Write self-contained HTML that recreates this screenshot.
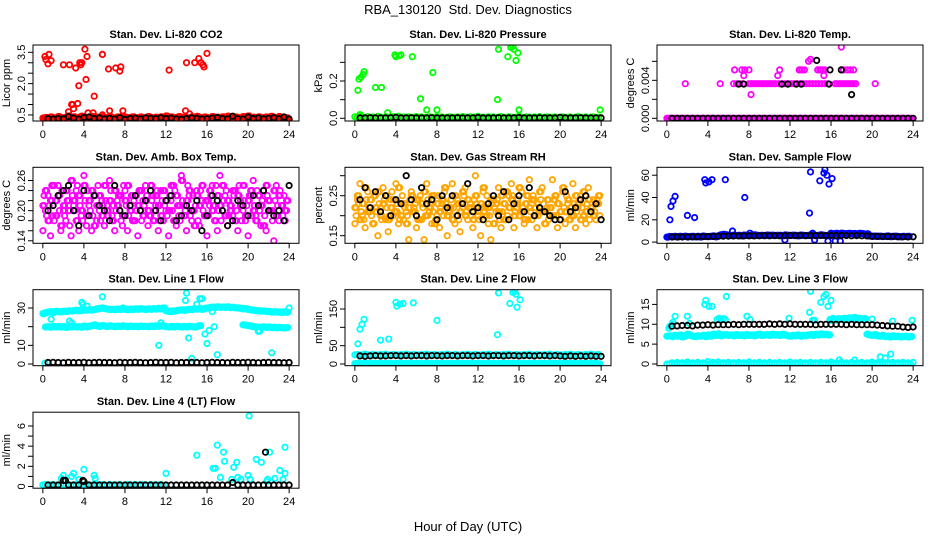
<!DOCTYPE html>
<html><head><meta charset="utf-8"><title>RBA_130120 Std. Dev. Diagnostics</title>
<style>html,body{margin:0;padding:0;background:#fff}svg{display:block;font-family:"Liberation Sans",Arial,sans-serif}</style>
</head><body>
<svg id="chart" width="936" height="540" viewBox="0 0 936 540" xmlns="http://www.w3.org/2000/svg">
<rect width="936" height="540" fill="#fff"/>
<text x="468" y="14" font-size="13" text-anchor="middle">RBA_130120&#160; Std. Dev. Diagnostics</text>
<text x="468" y="531" font-size="13" text-anchor="middle">Hour of Day (UTC)</text>
</svg>
<script>
const hoursQ=[0,0.25,0.5,0.75,1,1.25,1.5,1.75,2,2.25,2.5,2.75,3,3.25,3.5,3.75,4,4.25,4.5,4.75,5,5.25,5.5,5.75,6,6.25,6.5,6.75,7,7.25,7.5,7.75,8,8.25,8.5,8.75,9,9.25,9.5,9.75,10,10.25,10.5,10.75,11,11.25,11.5,11.75,12,12.25,12.5,12.75,13,13.25,13.5,13.75,14,14.25,14.5,14.75,15,15.25,15.5,15.75,16,16.25,16.5,16.75,17,17.25,17.5,17.75,18,18.25,18.5,18.75,19,19.25,19.5,19.75,20,20.25,20.5,20.75,21,21.25,21.5,21.75,22,22.25,22.5,22.75,23,23.25,23.5,23.75];
const hoursE=[0.12,0.37,0.62,0.87,1.12,1.37,1.62,1.87,2.12,2.37,2.62,2.87,3.12,3.37,3.62,3.87,4.12,4.37,4.62,4.87,5.12,5.37,5.62,5.87,6.12,6.37,6.62,6.87,7.12,7.37,7.62,7.87,8.12,8.37,8.62,8.87,9.12,9.37,9.62,9.87,10.12,10.37,10.62,10.87,11.12,11.37,11.62,11.87,12.12,12.37,12.62,12.87,13.12,13.37,13.62,13.87,14.12,14.37,14.62,14.87,15.12,15.37,15.62,15.87,16.12,16.37,16.62,16.87,17.12,17.37,17.62,17.87,18.12,18.37,18.62,18.87,19.12,19.37,19.62,19.87,20.12,20.37,20.62,20.87,21.12,21.37,21.62,21.87,22.12,22.37,22.62,22.87,23.12,23.37,23.62,23.87];
const hoursH=[0.5,1,1.5,2,2.5,3,3.5,4,4.5,5,5.5,6,6.5,7,7.5,8,8.5,9,9.5,10,10.5,11,11.5,12,12.5,13,13.5,14,14.5,15,15.5,16,16.5,17,17.5,18,18.5,19,19.5,20,20.5,21,21.5,22,22.5,23,23.5,24];
const xTicks=[0,4,8,12,16,20,24];

// Panel 1: CO2
const co2Red=[0.35,0.38,0.32,0.40,0.36,0.33,0.42,0.37,0.34,0.39,0.45,0.36,0.41,0.33,0.38,0.44,0.40,0.35,0.37,0.43,0.36,0.39,0.34,0.41,0.38,0.35,0.42,0.37,0.33,0.40,0.36,0.44,0.39,0.34,0.38,0.41,0.35,0.37,0.40,0.33,0.36,0.42,0.38,0.35,0.39,0.34,0.41,0.37,0.45,0.36,0.40,0.33,0.38,0.42,0.35,0.39,0.37,0.34,0.41,0.36,0.43,0.38,0.35,0.40,0.37,0.33,0.42,0.36,0.39,0.34,0.41,0.38,0.44,0.35,0.37,0.40,0.36,0.33,0.42,0.38,0.45,0.35,0.39,0.34,0.41,0.37,0.36,0.40,0.33,0.43,0.38,0.35,0.42,0.37,0.34,0.36];
const co2OutX=[0.2,0.3,0.5,0.6,0.8,2.0,2.6,3.2,3.6,3.7,3.8,4.1,4.3,3.5,4.2,5.0,5.8,6.4,7.1,7.5,7.6,2.5,2.8,3.0,3.4,2.9,4.4,4.9,5.8,6.5,7.8,12.3,13.9,14.0,14.8,15.2,15.4,15.6,15.7,16.0,14.3];
const co2OutY=[3.3,3.15,2.95,3.4,3.1,2.9,2.9,2.75,3.0,2.9,3.0,3.65,3.3,1.9,2.2,1.4,3.4,2.7,2.75,2.6,2.8,0.65,1.0,0.8,1.05,1.0,0.6,0.6,0.5,0.7,0.7,2.65,0.7,3.0,3.0,3.2,3.0,2.9,2.8,3.45,0.55];
const co2Black=[0.32,0.30,0.33,0.31,0.42,0.35,0.30,0.38,0.40,0.33,0.36,0.31,0.34,0.30,0.37,0.28,0.33,0.35,0.31,0.36,0.34,0.32,0.37,0.33,0.35,0.31,0.29,0.33,0.36,0.34,0.30,0.32,0.35,0.38,0.33,0.31,0.44,0.32,0.30,0.40,0.33,0.36,0.31,0.34,0.37,0.32,0.40,0.30];

// Panel 2: Pressure
const presGreen=[0.008,0.004,0.012,0.006,0.003,0.009,0.005,0.007,0.002,0.010,0.006,0.004,0.008,0.005,0.003,0.009,0.006,0.011,0.004,0.007,0.005,0.008,0.003,0.006,0.009,0.004,0.007,0.005,0.002,0.008,0.006,0.004,0.009,0.005,0.007,0.003,0.006,0.008,0.004,0.005,0.007,0.003,0.009,0.006,0.004,0.008,0.005,0.007,0.010,0.004,0.006,0.003,0.008,0.005,0.007,0.004,0.006,0.009,0.003,0.005,0.008,0.006,0.004,0.007,0.010,0.005,0.003,0.008,0.006,0.004,0.007,0.005,0.009,0.003,0.006,0.008,0.004,0.005,0.007,0.003,0.006,0.008,0.004,0.005,0.007,0.003,0.006,0.009,0.004,0.005,0.007,0.003,0.006,0.008,0.004,0.005];
const presOutX=[0.3,0.4,0.6,0.8,0.9,2.0,2.6,3.2,3.9,4.0,4.3,4.5,5.6,6.4,7.0,7.6,8.0,13.9,14.0,14.9,15.2,15.4,15.5,15.7,15.9,16.0,23.9,0.5];
const presOutY=[0.15,0.21,0.22,0.235,0.25,0.165,0.165,0.03,0.34,0.33,0.335,0.34,0.33,0.105,0.045,0.245,0.045,0.10,0.37,0.33,0.38,0.385,0.37,0.31,0.35,0.045,0.045,0.02];
const presBlack=[0.002,0.002,0.003,0.002,0.002,0.002,0.003,0.005,0.002,0.002,0.003,0.002,0.002,0.002,0.003,0.002,0.002,0.002,0.002,0.003,0.002,0.002,0.002,0.004,0.002,0.002,0.002,0.003,0.002,0.002,0.002,0.004,0.002,0.002,0.002,0.003,0.002,0.002,0.002,0.005,0.002,0.002,0.002,0.003,0.002,0.002,0.002,0.002];

// Panel 3: Temp
const tempMagZero=[0,0,0,0,0,0,0,0,0,0,0,0,0,0,0,0,0,0,0,0,0,0,0,0,0,0,0,0,0,0,0,0,0,0,0,0,0,0,0,0,0,0,0,0,0,0,0,0,0,0,0,0,0,0,0,0,0,0,0,0,0,0,0,0,0,0,0,0,0,0,0,0,0,0,0,0,0,0,0,0,0,0,0,0,0,0,0,0,0,0,0,0,0,0,0,0];
const tempBandX=[1.8,5.2,6.5,6.8,7.1,7.4,8.0,8.2,8.4,8.6,8.8,9.0,9.2,9.4,9.6,9.8,10.0,10.2,10.4,10.6,10.9,11.2,11.5,11.8,12.1,12.4,12.7,13.0,13.3,13.6,13.9,14.2,14.5,14.8,15.1,15.4,15.7,16.4,16.6,16.8,17.0,17.2,17.4,17.6,17.8,18.0,18.2,18.4,20.3];
const tempBandY=[0.00364,0.00364,0.00364,0.00364,0.00364,0.00364,0.00364,0.00364,0.00364,0.00364,0.00364,0.00364,0.00364,0.00364,0.00364,0.00364,0.00364,0.00364,0.00364,0.00364,0.00364,0.00364,0.00364,0.00364,0.00364,0.00364,0.00364,0.00364,0.00364,0.00364,0.00364,0.00364,0.00364,0.00364,0.00364,0.00364,0.00364,0.00364,0.00364,0.00364,0.00364,0.00364,0.00364,0.00364,0.00364,0.00364,0.00364,0.00364,0.00364];
const tempOutX=[6.6,7.3,7.6,8.0,11.0,12.9,13.0,13.2,13.4,14.7,14.9,15.0,15.2,15.4,17.2,17.6,17.9,18.2,7.5,10.8,15.3,8.2,13.8,14.0,17.0];
const tempOutY=[0.0051,0.0051,0.0051,0.0051,0.0051,0.0051,0.0051,0.0051,0.0051,0.0051,0.0051,0.0051,0.0051,0.0051,0.0051,0.0051,0.0051,0.0051,0.0045,0.0045,0.0045,0.0025,0.006,0.0062,0.0075];
const tempBlackZero=[0,0,0,0,0,0,0,0,0,0,0,0,0,0,0,0,0,0,0,0,0,0,0,0,0,0,0,0,0,0,0,0,0,0,0,0,0,0,0,0,0,0,0,0,0,0,0,0];
const tempBlackOutX=[7.0,7.5,11.2,11.8,12.6,13.1,15.8,14.6,15.9,17.0,18.0];
const tempBlackOutY=[0.0036,0.0036,0.0036,0.0036,0.0036,0.0036,0.0036,0.0061,0.0051,0.0051,0.0025];

// Panel 4: Amb box temp
const ambA=[0.21,0.24,0.18,0.22,0.25,0.19,0.23,0.17,0.21,0.24,0.20,0.26,0.22,0.18,0.23,0.20,0.25,0.19,0.22,0.24,0.17,0.21,0.23,0.19,0.25,0.20,0.22,0.18,0.24,0.21,0.23,0.19,0.22,0.25,0.20,0.18,0.23,0.21,0.24,0.19,0.22,0.20,0.25,0.18,0.23,0.21,0.19,0.24,0.22,0.20,0.25,0.18,0.23,0.21,0.26,0.19,0.22,0.24,0.20,0.17,0.23,0.21,0.25,0.19,0.22,0.24,0.20,0.18,0.23,0.21,0.25,0.19,0.22,0.20,0.24,0.18,0.23,0.21,0.25,0.19,0.22,0.24,0.20,0.18,0.23,0.21,0.17,0.25,0.22,0.20,0.24,0.19,0.23,0.21,0.18,0.22];
const ambB=[0.16,0.20,0.23,0.15,0.19,0.22,0.25,0.16,0.20,0.18,0.22,0.15,0.21,0.24,0.16,0.19,0.27,0.17,0.21,0.16,0.23,0.18,0.20,0.22,0.17,0.21,0.26,0.19,0.16,0.22,0.20,0.17,0.24,0.16,0.21,0.23,0.18,0.15,0.20,0.22,0.25,0.17,0.19,0.23,0.21,0.16,0.24,0.18,0.20,0.15,0.22,0.25,0.17,0.19,0.27,0.21,0.16,0.23,0.18,0.20,0.24,0.17,0.22,0.19,0.15,0.21,0.25,0.18,0.16,0.27,0.20,0.23,0.17,0.21,0.19,0.24,0.16,0.22,0.20,0.18,0.15,0.23,0.26,0.19,0.21,0.17,0.24,0.16,0.22,0.20,0.14,0.25,0.18,0.21,0.23,0.20];
const ambC=[0.23,0.19,0.21,0.25,0.18,0.22,0.20,0.24,0.19,0.22,0.17,0.23,0.20,0.25,0.21,0.18,0.22,0.24,0.20,0.19,0.23,0.25,0.18,0.21,0.22,0.19,0.24,0.21,0.20,0.23,0.18,0.25,0.21,0.19,0.23,0.22,0.20,0.24,0.18,0.21,0.23,0.19,0.22,0.20,0.24,0.18,0.22,0.21,0.19,0.23,0.20,0.24,0.21,0.18,0.22,0.20,0.25,0.19,0.23,0.21,0.18,0.24,0.20,0.22,0.19,0.23,0.21,0.25,0.20,0.18,0.22,0.24,0.19,0.21,0.23,0.20,0.25,0.18,0.22,0.21,0.23,0.19,0.21,0.24,0.20,0.22,0.19,0.23,0.20,0.18,0.22,0.21,0.24,0.19,0.20,0.22];
const ambBlack=[0.20,0.21,0.23,0.24,0.25,0.20,0.17,0.24,0.19,0.23,0.21,0.20,0.18,0.25,0.20,0.19,0.21,0.23,0.20,0.22,0.24,0.20,0.18,0.22,0.23,0.18,0.19,0.21,0.20,0.22,0.16,0.19,0.23,0.22,0.20,0.17,0.18,0.22,0.21,0.19,0.23,0.21,0.24,0.20,0.19,0.20,0.18,0.25];

// Panel 5: Gas stream RH
const rhA=[0.22,0.25,0.19,0.23,0.27,0.21,0.24,0.18,0.22,0.26,0.20,0.23,0.25,0.19,0.22,0.24,0.21,0.27,0.20,0.23,0.18,0.22,0.25,0.21,0.24,0.19,0.23,0.26,0.20,0.22,0.25,0.18,0.23,0.21,0.24,0.27,0.20,0.22,0.19,0.25,0.23,0.21,0.26,0.20,0.24,0.22,0.19,0.25,0.21,0.23,0.27,0.20,0.22,0.24,0.18,0.23,0.21,0.25,0.19,0.26,0.22,0.24,0.20,0.23,0.27,0.21,0.19,0.25,0.22,0.24,0.20,0.23,0.26,0.21,0.18,0.24,0.22,0.20,0.25,0.23,0.19,0.27,0.21,0.24,0.22,0.20,0.25,0.23,0.19,0.26,0.21,0.24,0.22,0.20,0.23,0.25];
const rhB=[0.18,0.24,0.28,0.20,0.17,0.26,0.21,0.18,0.25,0.15,0.22,0.27,0.19,0.16,0.24,0.20,0.28,0.18,0.23,0.19,0.21,0.14,0.26,0.22,0.17,0.24,0.19,0.14,0.28,0.21,0.18,0.25,0.20,0.17,0.23,0.26,0.15,0.21,0.28,0.18,0.24,0.16,0.22,0.27,0.19,0.23,0.17,0.30,0.20,0.15,0.26,0.22,0.18,0.14,0.24,0.21,0.27,0.17,0.23,0.19,0.25,0.28,0.17,0.22,0.20,0.26,0.18,0.23,0.29,0.19,0.24,0.17,0.21,0.27,0.18,0.22,0.20,0.29,0.24,0.17,0.21,0.26,0.18,0.23,0.19,0.28,0.17,0.22,0.25,0.20,0.18,0.27,0.21,0.24,0.19,0.23];
const rhC=[0.20,0.23,0.21,0.19,0.24,0.22,0.20,0.25,0.21,0.23,0.19,0.24,0.22,0.20,0.26,0.21,0.23,0.19,0.25,0.22,0.20,0.24,0.21,0.23,0.19,0.25,0.22,0.20,0.24,0.23,0.21,0.19,0.25,0.22,0.20,0.23,0.21,0.24,0.22,0.20,0.19,0.23,0.25,0.21,0.22,0.20,0.24,0.23,0.19,0.22,0.21,0.25,0.20,0.23,0.22,0.24,0.19,0.21,0.23,0.20,0.22,0.25,0.21,0.24,0.20,0.22,0.23,0.19,0.21,0.25,0.22,0.20,0.24,0.23,0.21,0.19,0.22,0.24,0.20,0.23,0.21,0.22,0.25,0.19,0.20,0.23,0.21,0.24,0.22,0.20,0.23,0.19,0.22,0.21,0.24,0.20];
const rhBlack=[0.24,0.27,0.22,0.26,0.21,0.25,0.20,0.24,0.23,0.30,0.24,0.20,0.27,0.23,0.24,0.19,0.25,0.22,0.25,0.20,0.23,0.28,0.21,0.22,0.19,0.23,0.25,0.20,0.26,0.19,0.23,0.25,0.21,0.27,0.20,0.22,0.21,0.20,0.19,0.19,0.26,0.21,0.22,0.24,0.25,0.21,0.23,0.19];

// Panel 6: Sample flow
const sampleBlue=[4.5,5,4.8,5.2,4.6,5.1,4.9,5.3,4.7,5,5.2,4.8,5.1,4.6,5.4,5,4.9,5.2,5.5,4.8,5.6,6.5,7,6.5,6,5.8,6.2,5.9,6.1,5.7,6.3,6,5.8,6.2,6.5,6,5.9,6.1,5.8,6.3,6,6.2,5.9,6.1,6,5.8,6.4,6.1,5.9,6.2,6,5.7,6.3,6.1,5.8,6,6.4,6.2,5.9,6.1,6.5,6,5.8,6.2,6.6,7.5,7.8,7.2,8,7.6,7.4,7.9,7.5,7.7,7.3,7.8,7.6,7.2,7.4,5.5,5.2,5.4,5.1,5.3,5,5.2,5.5,4.9,5.1,5.3,5,4.8,5.2,5,5.1];
const sampleOutX=[0.3,0.4,0.6,0.8,2.0,2.7,3.7,3.8,4.1,4.4,5.7,6.4,7.6,8.1,11.5,13.9,14.0,14.2,14.4,14.9,15.3,15.4,15.6,15.8,16.1,15.7,16.4,16.9,16.0];
const sampleOutY=[20,32,37,41,24,22,56,53,54,56,56,10,40,8,2,26,63,8,2,55,62,65,60,52,57,1,1,1,8];
const sampleBlack=[4.6,4.7,4.6,4.8,4.7,4.8,4.9,5,5.1,5.2,5.3,5.4,5.5,5.6,5.6,5.7,5.6,5.7,5.8,5.7,5.8,5.7,5.8,5.9,5.8,5.9,5.8,5.9,5.8,5.9,5.8,5.9,5.8,5.9,5.8,5.7,5.8,5.7,5.6,5.2,5.1,5,5,4.9,4.8,4.8,4.7,4.8];

// Panel 7: Line 1 flow
const line1Upper=[27,27.5,27.8,28,27.6,28.2,28,27.9,28.3,28.1,28.5,28.4,28.6,28.8,28.5,28.7,29,28.8,29.1,28.9,29.2,29.5,29.8,30,29.6,29.4,29.2,29.3,29.1,29.4,29.2,29.5,29.3,29.1,29.4,29.2,29.5,29.3,29.6,29.4,29.2,29.5,29.3,29.6,29.4,29.8,29.5,30,28.5,28.2,28.4,28.3,28.6,28.8,29,28.7,29.1,29.3,29.2,29.5,29.4,29.6,29.3,29.8,30,30.2,30.5,30.3,30.6,30.4,30.5,30.3,30.6,30.2,30.4,30.1,30,29.8,29.5,29.6,29.2,29,28.8,28.6,28.5,28.3,28.4,28.2,28.1,27.8,28,27.9,27.8,27.6,27.9,27.7];
const line1Lower=[null,19.8,20,19.7,20.2,19.9,20.1,19.8,20,19.6,20.2,19.9,20.1,19.8,20,19.7,20.3,19.9,20.2,20.5,21,20.4,20.2,20.6,20.3,20.1,20.4,20.2,20,20.3,20.1,20.4,20.2,20,20.3,20.1,20.2,20,20.3,20.1,20.2,20,20.3,20.1,20.4,20.2,20.5,20.3,20,19.8,20.1,19.9,20.2,20,19.8,20.1,19.9,20.2,20,19.8,20.1,20.5,null,null,null,null,null,null,null,null,null,null,null,null,null,null,null,null,21,20.8,20.5,20.3,20,19.8,17.5,19.7,19.9,19.6,19.8,19.5,19.7,19.4,19.6,19.5,19.3,19.5];
const line1OutX=[0.8,3.8,3.9,4.3,5.8,2.6,2.8,11.3,11.5,13.9,14.0,14.2,14.5,15.0,15.3,15.5,15.8,16.0,16.2,16.5,17.0,16.7,22.3,21.0,7.8,24.0,12.5,0.2];
const line1OutY=[24,33,32,31,36,23,22,10,22,34,38,14,3,32,35,35,16,11,18,28,5,20,6,18,30,30,28,0.5];
const line1Black=[0.8,0.9,0.8,0.7,0.9,0.8,0.8,0.9,0.7,0.8,0.9,0.8,0.8,0.7,0.9,0.8,0.8,0.9,0.8,0.7,0.8,0.9,0.8,0.8,0.9,0.7,0.8,0.8,0.9,0.8,0.7,0.8,0.9,0.8,0.8,0.7,0.9,0.8,0.8,0.9,0.8,0.7,0.8,0.9,0.8,0.8,0.7,0.8];

// Panel 8: Line 2 flow
const line2Upper=[25,26,24,25,27,25,24,26,25,24,26,25,27,24,25,26,25,24,26,25,27,25,24,26,25,24,26,25,27,24,25,26,25,24,26,25,27,25,24,26,25,24,26,25,27,24,25,26,25,24,26,25,27,25,24,26,25,24,26,25,27,24,25,26,25,24,26,25,27,25,24,26,25,24,26,25,27,24,25,26,25,24,26,25,27,25,24,26,25,24,26,25,27,24,25,26];
const line2Lower=[1,2,0.5,1.5,2,1,0.5,2,1.5,1,2,0.5,1,2,1.5,0.5,1,2,1,1.5,0.5,2,1,1.5,1,2,0.5,1,2,1.5,1,0.5,2,1,1.5,0.5,1,2,1,1.5,0.5,2,1,1.5,1,2,0.5,1,2,1.5,1,0.5,2,1,1.5,0.5,1,2,1,1.5,0.5,2,1,1.5,1,2,0.5,1,2,1.5,1,0.5,2,1,1.5,0.5,1,2,1,1.5,0.5,2,1,1.5,1,2,0.5,1,2,1.5,1,0.5,2,1,1.5,0.5];
const line2OutX=[0.3,0.5,0.7,0.9,2.5,3.3,4.0,4.1,4.4,4.7,5.7,8.0,13.9,14.0,15.1,15.4,15.6,15.7,15.8,16.1];
const line2OutY=[55,95,108,122,65,68,168,158,163,165,167,119,80,194,165,195,197,190,155,175];
const line2Black=[22,21,22,23,22,22,23,23,22,23,22,23,23,22,23,23,22,23,23,22,23,23,22,23,23,22,23,23,22,23,23,22,23,23,22,23,23,22,23,22,21,22,21,22,21,22,21,21];

// Panel 9: Line 3 flow
const line3Mid=[7,7.1,6.9,7.2,7,7.3,6.8,7.1,7.5,7.2,7,6.9,7.1,7,7.2,6.9,7.3,7,7.5,7.2,7.6,7.1,7.3,7.4,7.2,7.3,7.1,7.4,7.2,7.3,7.1,7.4,7.2,7.3,7.1,7.4,7.5,7.2,7.3,7.4,7.2,7.5,7.3,7.4,7.2,7.5,7.3,7.1,7,7.2,7.1,7.3,7,7.2,7.1,7.3,7.4,7.2,7.5,7.3,7.6,7.4,7.5,7.3,11,11.2,11.1,11.4,11.3,11.5,11.2,11.6,11.4,11.7,11.3,11.5,11.2,11.4,7.5,7.3,7.2,7.4,7.1,7,7.2,6.9,7,6.8,7.1,6.9,7,6.8,6.9,7,6.8,6.9];
const line3OutX=[0.3,0.5,0.6,2.2,4.9,5.1,5.3,5.5,5.7,8.1,11.9,14.4,15.9,16.2,20,22.0,23.9,0.2,0.8,2.0,3.7,3.8,4.1,4.4,5.8,7.8,13.9,14.0,14.2,15.0,15.3,15.5,15.7,16.0,21.8,20.8,21.3,16.8,18.3];
const line3OutY=[9.5,10,10.5,10.2,11.2,11.5,11.3,11.4,11.2,11.2,11.5,11,11.2,11.5,11.3,10.8,11,9,12,12,15,16,14.5,14.5,17,12,13,18.3,11,15.5,17,17.5,14.5,16,2.5,1.8,1.5,1,1];
const line3Low=[0.3,0.4,0.3,0.5,0.3,0.4,0.3,0.6,0.4,0.5,0.3,0.4,0.3,0.4,0.3,0.5,0.3,0.4,0.3,0.4,0.3,0.4,0.3,0.5,0.3,0.4,0.3,0.4,0.3,0.4,0.3,0.5,0.3,0.4,0.3,0.4,0.3,0.4,0.3,0.5,0.3,0.4,0.3,0.4,0.3,0.4,0.3,0.4];
const line3Black=[9.5,9.6,9.7,9.7,9.6,9.8,9.8,9.9,9.8,9.9,9.9,9.9,10,9.9,10,10,10,10,10,10.1,10,10.1,10,10.1,10,10,10,10,9.9,10,10,10,10,10,9.9,10,9.9,9.9,9.9,9.9,9.8,9.7,9.6,9.5,9.5,9.3,9.2,9.3];

// Panel 10: Line 4 (LT) flow
const line4Cyan=[0.15,0.2,0.1,0.15,0.2,0.15,0.1,0.2,0.15,0.1,0.2,0.15,0.1,0.15,0.2,0.1,0.15,0.2,0.1,0.15,0.2,0.15,0.1,0.2,0.15,0.1,0.2,0.15,0.1,0.15,0.2,0.1,0.15,0.2,0.1,0.15,0.2,0.15,0.1,0.2,0.15,0.1,0.2,0.15,0.1,0.15,0.2,0.1];
const line4OutX=[0,1.8,2.0,2.8,3.0,3.5,4.0,5.0,5.1,12.0,15.0,16.6,16.8,17.0,17.3,17.6,17.7,18.4,18.6,18.9,19.0,19.3,20.0,20.1,20.2,20.8,21.3,21.9,22.1,22.6,23.1,23.4,23.6,23.6,21.8];
const line4OutY=[0.15,0.8,1.1,1.0,1.3,0.7,1.7,1.1,0.8,1.3,3.1,1.8,1.8,4.1,0.9,3.4,2.5,0.7,1.9,2.4,0.9,0.7,1.1,7.0,0.7,2.7,2.4,0.7,3.4,0.8,1.6,0.7,3.9,1.3,0.5];
const line4Black=[0.15,0.15,0.15,0.6,0.15,0.15,0.15,0.5,0.15,0.15,0.15,0.15,0.15,0.15,0.15,0.15,0.15,0.15,0.15,0.15,0.15,0.15,0.15,0.15,0.15,0.15,0.15,0.15,0.15,0.15,0.15,0.15,0.15,0.15,0.15,0.15,0.4,0.15,0.15,0.15,0.15,0.15,0.15,0.15,0.15,0.15,0.15,0.15];
const line4BlackOutX=[2.2,3.9,21.7];
const line4BlackOutY=[0.6,0.6,3.4];

const RED="#ff0000",GRN="#00ff00",MAG="#ff00ff",ORG="#ffa500",BLU="#0000ff",CYN="#00ffff",BLK="#000000";
const panels=[
 {name:"co2",col:0,row:0,title:"Stan. Dev. Li-820 CO2",ylab:"Licor ppm",lo:0.21,hi:3.85,ticks:[0.5,1,1.5,2,2.5,3,3.5],labels:{"0.5":"0.5","2":"2.0","3.5":"3.5"},
  series:[[hoursQ,co2Red,RED],[hoursE,co2Red,RED],[co2OutX,co2OutY,RED],[hoursH,co2Black,BLK]]},
 {name:"pressure",col:1,row:0,title:"Stan. Dev. Li-820 Pressure",ylab:"kPa",lo:-0.0145,hi:0.393,ticks:[0,0.1,0.2,0.3],labels:{"0":"0.0","0.2":"0.2"},
  series:[[hoursQ,presGreen,GRN],[presOutX,presOutY,GRN],[hoursH,presBlack,BLK]]},
 {name:"temp",col:2,row:0,title:"Stan. Dev. Li-820 Temp.",ylab:"degrees C",lo:-0.000284,hi:0.00772,ticks:[0,0.002,0.004,0.006],labels:{"0":"0.000","0.004":"0.004"},
  series:[[hoursQ,tempMagZero,MAG],[hoursE,tempMagZero,MAG],[tempBandX,tempBandY,MAG],[tempOutX,tempOutY,MAG],[hoursH,tempBlackZero,BLK],[tempBlackOutX,tempBlackOutY,BLK]]},
 {name:"amb-box-temp",col:0,row:1,title:"Stan. Dev. Amb. Box Temp.",ylab:"degrees C",lo:0.135,hi:0.2863,ticks:[0.14,0.16,0.18,0.2,0.22,0.24,0.26],labels:{"0.14":"0.14","0.2":"0.20","0.26":"0.26"},
  series:[[hoursQ,ambA,MAG],[hoursQ,ambB,MAG],[hoursE,ambC,MAG],[hoursE,ambA,MAG],[hoursH,ambBlack,BLK]]},
 {name:"gas-stream-rh",col:1,row:1,title:"Stan. Dev. Gas Stream RH",ylab:"percent",lo:0.131,hi:0.321,ticks:[0.15,0.2,0.25,0.3],labels:{"0.15":"0.15","0.25":"0.25"},
  series:[[hoursQ,rhA,ORG],[hoursQ,rhB,ORG],[hoursE,rhC,ORG],[hoursE,rhA,ORG],[hoursH,rhBlack,BLK]]},
 {name:"sample-flow",col:2,row:1,title:"Stan. Dev. Sample Flow",ylab:"ml/min",lo:-1.07,hi:67.1,ticks:[0,20,40,60],labels:{"0":"0","20":"20","40":"40","60":"60"},
  series:[[hoursQ,sampleBlue,BLU],[hoursE,sampleBlue,BLU],[sampleOutX,sampleOutY,BLU],[hoursH,sampleBlack,BLK]]},
 {name:"line1-flow",col:0,row:2,title:"Stan. Dev. Line 1 Flow",ylab:"ml/min",lo:-0.9,hi:39.8,ticks:[0,10,20,30],labels:{"0":"0","10":"10","30":"30"},
  series:[[hoursQ,line1Upper,CYN],[hoursE,line1Upper,CYN],[hoursQ,line1Lower,CYN],[hoursE,line1Lower,CYN],[line1OutX,line1OutY,CYN],[hoursH,line1Black,BLK]]},
 {name:"line2-flow",col:1,row:2,title:"Stan. Dev. Line 2 Flow",ylab:"ml/min",lo:-4.6,hi:202.6,ticks:[0,50,100,150],labels:{"0":"0","50":"50","150":"150"},
  series:[[hoursQ,line2Lower,CYN],[hoursE,line2Lower,CYN],[hoursQ,line2Upper,CYN],[line2OutX,line2OutY,CYN],[hoursH,line2Black,BLK]]},
 {name:"line3-flow",col:2,row:2,title:"Stan. Dev. Line 3 Flow",ylab:"ml/min",lo:-0.43,hi:18.7,ticks:[0,5,10,15],labels:{"0":"0","5":"5","10":"10","15":"15"},
  series:[[hoursQ,line3Mid,CYN],[hoursE,line3Mid,CYN],[hoursH,line3Low,CYN],[hoursQ,tempMagZero,CYN],[line3OutX,line3OutY,CYN],[hoursH,line3Black,BLK]]},
 {name:"line4-flow",col:0,row:3,title:"Stan. Dev. Line 4 (LT) Flow",ylab:"ml/min",lo:-0.17,hi:7.37,ticks:[0,1,2,3,4,5,6],labels:{"0":"0","2":"2","4":"4","6":"6"},
  series:[[hoursQ,line4Cyan,CYN],[line4OutX,line4OutY,CYN],[hoursH,line4Black,BLK],[line4BlackOutX,line4BlackOutY,BLK]]}
];
const NS="http://www.w3.org/2000/svg";
const svg=document.getElementById('chart');
const LEFTS=[33,345,657],TOPS=[45,167.3,289.7,412.2],W=266,H=76;
function mk(tag,attrs,parent){const e=document.createElementNS(NS,tag);for(const k in attrs)e.setAttribute(k,attrs[k]);parent.appendChild(e);return e;}
panels.forEach(p=>{
 const L=LEFTS[p.col],T=TOPS[p.row],B=T+H;
 const xs=h=>L+(h+0.96)/25.92*W;
 const ys=v=>B-(v-p.lo)/(p.hi-p.lo)*H;
 const g=mk('g',{},svg);
 
 
 const clipId='clip-'+p.name;
 const cp=mk('clipPath',{id:clipId},g);mk('rect',{x:L,y:T,width:W,height:H},cp);
 const pts=mk('g',{'clip-path':'url(#'+clipId+')',fill:'none','stroke-width':1.8},g);
 
 
 p.series.forEach((s,si)=>{
  const X=s[0],Y=s[1],n=Math.min(X.length,Y.length);
  for(let i=0;i<n;i++){
   if(Y[i]===null)continue;
   const c=mk('circle',{cx:xs(X[i]).toFixed(1),cy:ys(Y[i]).toFixed(1),r:2.7,stroke:s[2]},pts);
   
   
  }
 });
 const box=mk('rect',{x:L,y:T,width:W,height:H,fill:'none',stroke:'#000','stroke-width':1},g);
 
 
 const t=mk('text',{x:L+W/2,y:T-7,'font-size':11,'font-weight':'bold','text-anchor':'middle'},g);
 t.textContent=p.title;
 
 
 const xa=mk('g',{stroke:'#000','stroke-width':1},g);
 
 
 mk('line',{x1:xs(xTicks[0]),x2:xs(xTicks[xTicks.length-1]),y1:B,y2:B},xa);
 xTicks.forEach(v=>{
  mk('line',{x1:xs(v),x2:xs(v),y1:B,y2:B+5},xa);
  const tl=mk('text',{x:xs(v),y:B+17,'font-size':11,'text-anchor':'middle',stroke:'none'},g);
  tl.textContent=String(v);
  
  
 });
 const ya=mk('g',{stroke:'#000','stroke-width':1},g);
 
 
 mk('line',{x1:L,x2:L,y1:ys(p.ticks[0]),y2:ys(p.ticks[p.ticks.length-1])},ya);
 p.ticks.forEach(v=>{
  mk('line',{x1:L-5,x2:L,y1:ys(v),y2:ys(v)},ya);
  const lab=p.labels[String(v)];
  if(lab!==undefined){
   const yy=ys(v),xx=L-8;
   const tl=mk('text',{x:xx,y:yy,'font-size':11,'text-anchor':'middle',transform:'rotate(-90 '+xx+' '+yy+')'},g);
   tl.textContent=lab;
   
   
  }
 });
 const yx=L-23,yy=T+H/2;
 const yl=mk('text',{x:yx,y:yy,'font-size':11,'text-anchor':'middle',transform:'rotate(-90 '+yx+' '+yy+')'},g);
 yl.textContent=p.ylab;
 
 
});
</script>
</body></html>
